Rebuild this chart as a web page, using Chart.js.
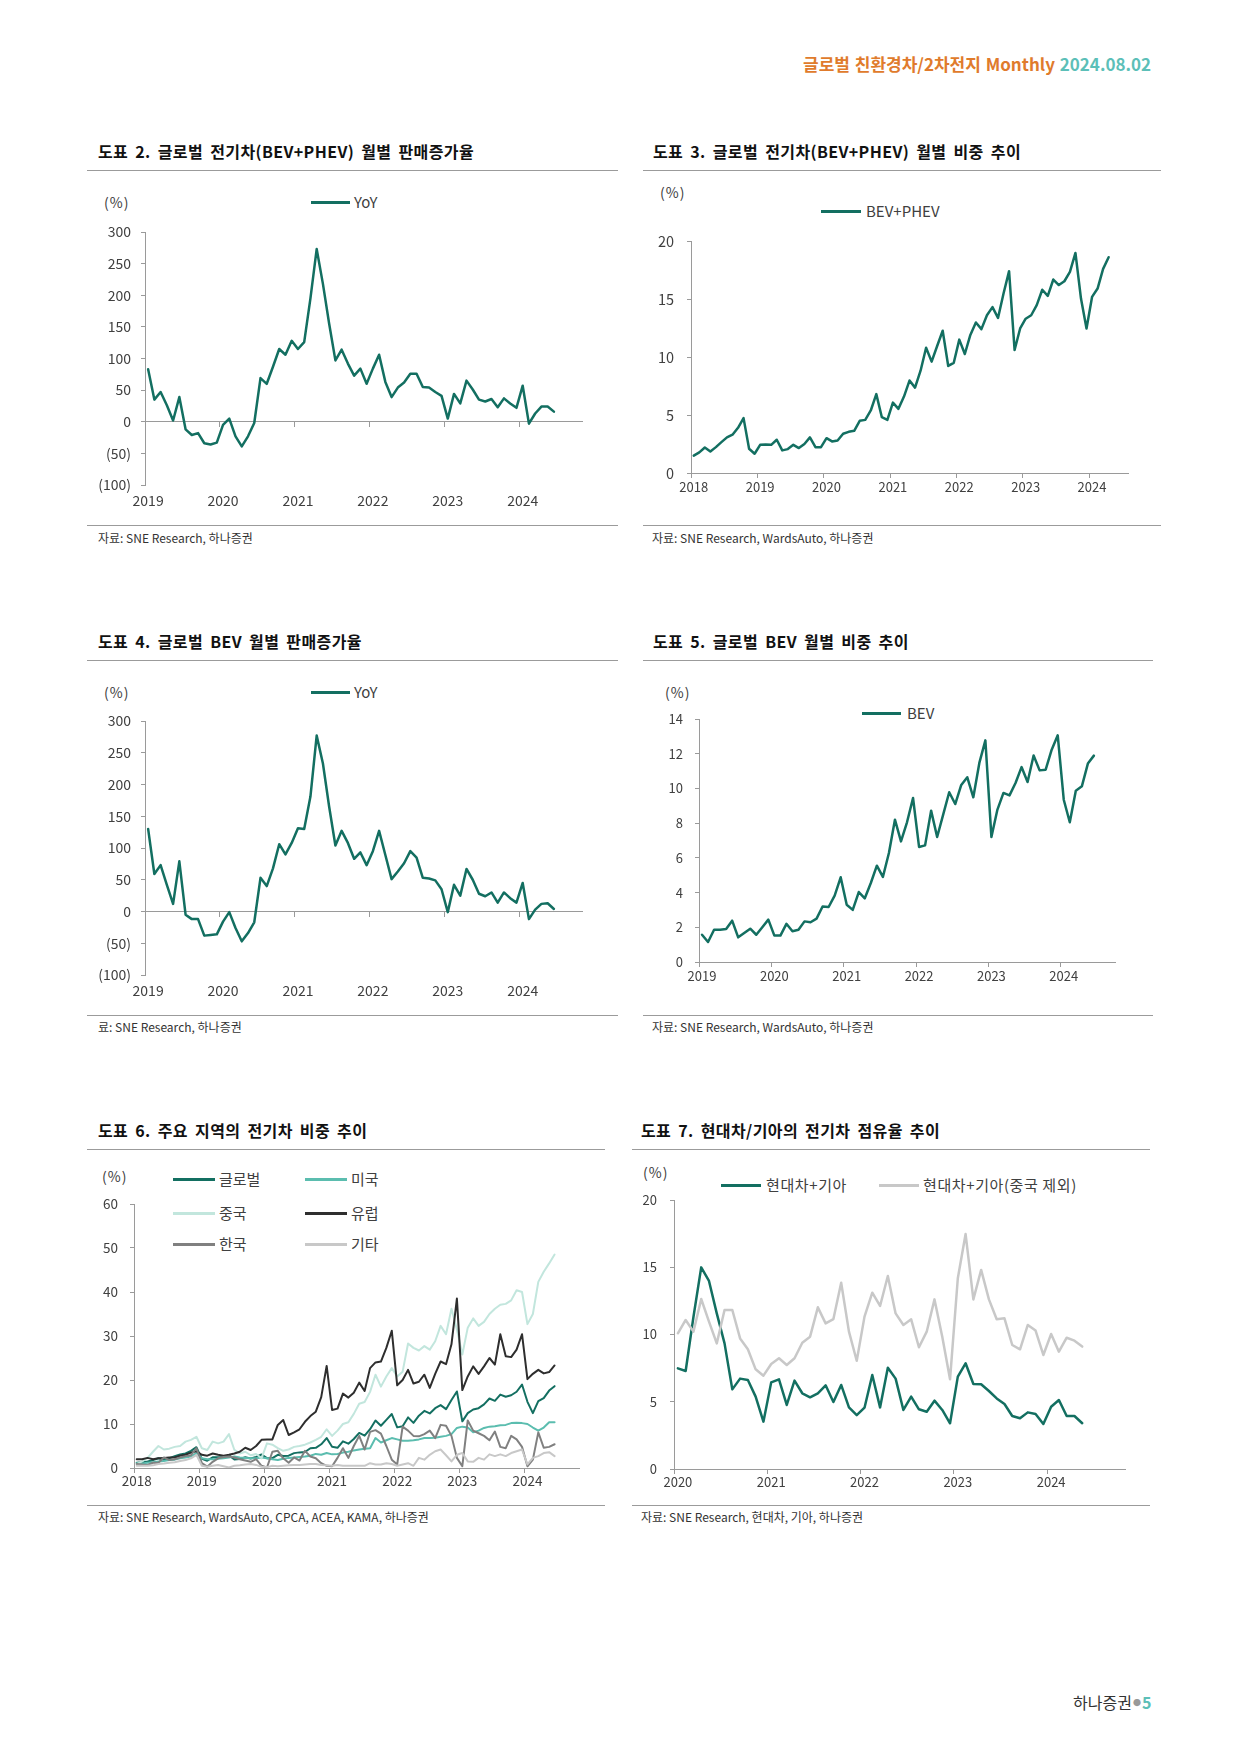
<!DOCTYPE html>
<html><head><meta charset="utf-8">
<script src="https://cdn.jsdelivr.net/npm/chart.js@4.4.1/dist/chart.umd.min.js"></script>
<style>
html,body{margin:0;padding:0;background:#fff;}
body{width:1241px;height:1755px;position:relative;overflow:hidden;font-family:"Noto Sans CJK KR","Noto Sans",sans-serif;color:#333;}
.abs{position:absolute;white-space:nowrap;}
.hdr{font-size:17px;font-weight:700;color:#E07B2C;line-height:22px;word-spacing:1px;}
.hdr span{color:#5CBFB8;}
.title{font-size:16px;font-weight:700;color:#111;line-height:20px;letter-spacing:0.4px;word-spacing:3px;}
.rule{position:absolute;height:0;border-top:1.5px solid #9b9b9b;}
.src{font-size:12px;color:#333;letter-spacing:0;line-height:16px;}
.unit{font-size:14px;color:#404040;line-height:18px;letter-spacing:1px;}
.leg{font-size:15px;color:#404040;line-height:18px;}
.leg7{font-size:15px;letter-spacing:0.6px;}
.ll{position:absolute;height:2.5px;}
canvas{position:absolute;}
.foot{font-size:16px;color:#333;line-height:22px;}
.foot .dot{color:#999;font-size:8px;vertical-align:3px;padding:0 1px;}
.foot .pg{color:#5CBFB8;font-weight:700;}
</style></head>
<body>
<div class="abs hdr" style="left:803px;top:53px;">글로벌 친환경차/2차전지 Monthly <span>2024.08.02</span></div>

<div class="abs title" style="left:98px;top:141px;">도표 2. 글로벌 전기차(BEV+PHEV) 월별 판매증가율</div>
<div class="rule" style="left:87px;width:531px;top:170px;"></div>
<div class="abs unit" style="left:104px;top:193px;">(%)</div>
<div class="ll" style="left:311px;width:39px;top:201px;background:#136F61;"></div>
<div class="abs leg" style="left:354px;top:193px;">YoY</div>
<div class="rule" style="left:87px;width:531px;top:525px;"></div>
<div class="abs src" style="left:98px;top:530px;">자료: SNE Research, 하나증권</div>

<div class="abs title" style="left:653px;top:141px;">도표 3. 글로벌 전기차(BEV+PHEV) 월별 비중 추이</div>
<div class="rule" style="left:643px;width:518px;top:170px;"></div>
<div class="abs unit" style="left:660px;top:183px;">(%)</div>
<div class="ll" style="left:821px;width:40px;top:210px;background:#136F61;"></div>
<div class="abs leg" style="left:866px;top:202px;">BEV+PHEV</div>
<div class="rule" style="left:643px;width:518px;top:525px;"></div>
<div class="abs src" style="left:652px;top:530px;">자료: SNE Research, WardsAuto, 하나증권</div>

<div class="abs title" style="left:98px;top:631px;">도표 4. 글로벌 BEV 월별 판매증가율</div>
<div class="rule" style="left:87px;width:531px;top:660px;"></div>
<div class="abs unit" style="left:104px;top:683px;">(%)</div>
<div class="ll" style="left:311px;width:39px;top:691px;background:#136F61;"></div>
<div class="abs leg" style="left:354px;top:683px;">YoY</div>
<div class="rule" style="left:87px;width:531px;top:1015px;"></div>
<div class="abs src" style="left:98px;top:1019px;">료: SNE Research, 하나증권</div>

<div class="abs title" style="left:653px;top:631px;">도표 5. 글로벌 BEV 월별 비중 추이</div>
<div class="rule" style="left:643px;width:510px;top:660px;"></div>
<div class="abs unit" style="left:665px;top:683px;">(%)</div>
<div class="ll" style="left:862px;width:39px;top:712px;background:#136F61;"></div>
<div class="abs leg" style="left:907px;top:704px;">BEV</div>
<div class="rule" style="left:643px;width:510px;top:1015px;"></div>
<div class="abs src" style="left:652px;top:1019px;">자료: SNE Research, WardsAuto, 하나증권</div>

<div class="abs title" style="left:98px;top:1120px;">도표 6. 주요 지역의 전기차 비중 추이</div>
<div class="rule" style="left:87px;width:518px;top:1149px;"></div>
<div class="abs unit" style="left:102px;top:1167px;">(%)</div>
<div class="ll" style="left:173px;width:42px;top:1178px;background:#136F61;"></div>
<div class="abs leg" style="left:219px;top:1170px;">글로벌</div>
<div class="ll" style="left:305px;width:42px;top:1178px;background:#5BBDAF;"></div>
<div class="abs leg" style="left:351px;top:1170px;">미국</div>
<div class="ll" style="left:173px;width:42px;top:1212px;background:#C2E6DD;"></div>
<div class="abs leg" style="left:219px;top:1204px;">중국</div>
<div class="ll" style="left:305px;width:42px;top:1212px;background:#2E2E2E;"></div>
<div class="abs leg" style="left:351px;top:1204px;">유럽</div>
<div class="ll" style="left:173px;width:42px;top:1243px;background:#808080;"></div>
<div class="abs leg" style="left:219px;top:1235px;">한국</div>
<div class="ll" style="left:305px;width:42px;top:1243px;background:#C8C8C8;"></div>
<div class="abs leg" style="left:351px;top:1235px;">기타</div>
<div class="rule" style="left:87px;width:518px;top:1505px;"></div>
<div class="abs src" style="left:98px;top:1509px;">자료: SNE Research, WardsAuto, CPCA, ACEA, KAMA, 하나증권</div>

<div class="abs title" style="left:641px;top:1120px;">도표 7. 현대차/기아의 전기차 점유율 추이</div>
<div class="rule" style="left:632px;width:518px;top:1149px;"></div>
<div class="abs unit" style="left:643px;top:1163px;">(%)</div>
<div class="ll" style="left:721px;width:40px;top:1184px;background:#136F61;"></div>
<div class="abs leg leg7" style="left:766px;top:1176px;">현대차+기아</div>
<div class="ll" style="left:879px;width:40px;top:1184px;background:#C8C8C8;"></div>
<div class="abs leg leg7" style="left:923px;top:1176px;">현대차+기아(중국 제외)</div>
<div class="rule" style="left:632px;width:518px;top:1505px;"></div>
<div class="abs src" style="left:641px;top:1509px;">자료: SNE Research, 현대차, 기아, 하나증권</div>

<div class="abs foot" style="left:1073px;top:1691px;">하나증권<span class="dot">●</span><span class="pg">5</span></div>

<canvas id="c2" width="510" height="300" style="left:90px;top:220px;"></canvas>
<canvas id="c3" width="500" height="285" style="left:645px;top:225px;"></canvas>
<canvas id="c4" width="510" height="300" style="left:90px;top:710px;"></canvas>
<canvas id="c5" width="500" height="300" style="left:645px;top:705px;"></canvas>
<canvas id="c6" width="510" height="310" style="left:85px;top:1190px;"></canvas>
<canvas id="c7" width="520" height="312" style="left:625px;top:1188px;"></canvas>

<script>
// ---------- DATA ----------
const years2 = ['2019','2020','2021','2022','2023','2024'];
const years3 = ['2018','2019','2020','2021','2022','2023','2024'];
const years5 = ['2019','2020','2021','2022','2023','2024'];
const years6 = ['2018','2019','2020','2021','2022','2023','2024'];
const years7 = ['2020','2021','2022','2023','2024'];

// 도표 2: 글로벌 전기차(BEV+PHEV) 월별 판매증가율 (YoY, %)
const evYoY = [83,35,47,26,2,39,-12,-21,-18,-34,-36,-33,-5,5,-23,-39,-23,-2,69,60,87,115,106,128,115,126,195,273,218,155,97,114,92,73,84,60,84,106,63,39,54,62,76,76,55,54,47,41,5,44,29,65,51,35,32,36,23,37,29,22,57,-3,13,24,24,16];
// 도표 3: 글로벌 전기차(BEV+PHEV) 월별 비중 (%)
const evShare = [1.5,1.78,2.2,1.86,2.23,2.66,3.07,3.3,3.9,4.73,2.09,1.66,2.43,2.46,2.43,2.87,1.95,2.06,2.43,2.15,2.5,3.07,2.23,2.23,3.0,2.72,2.8,3.38,3.55,3.64,4.5,4.58,5.39,6.8,4.81,4.58,6.07,5.53,6.59,7.97,7.36,8.82,10.8,9.6,10.95,12.26,9.23,9.5,11.5,10.26,11.9,12.98,12.4,13.6,14.3,13.37,15.47,17.4,10.6,12.46,13.3,13.6,14.47,15.8,15.27,16.68,16.2,16.53,17.33,18.97,15.04,12.46,15.18,15.9,17.6,18.6];
// 도표 4: 글로벌 BEV 월별 판매증가율 (YoY, %)
const bevYoY = [130,59,73,42,12,79,-5,-12,-12,-38,-37,-36,-16,-1,-26,-47,-34,-17,53,40,68,106,90,108,131,130,181,277,233,165,104,127,108,83,93,73,95,127,89,51,63,76,95,85,53,52,49,35,-1,42,25,67,50,28,24,30,14,30,21,14,45,-12,3,12,13,4];
// 도표 5: 글로벌 BEV 월별 비중 (%)
const bevShare = [1.57,1.15,1.86,1.86,1.9,2.38,1.42,1.67,1.92,1.57,2.0,2.44,1.52,1.52,2.2,1.77,1.86,2.34,2.29,2.5,3.2,3.17,3.82,4.88,3.3,3.0,4.03,3.67,4.55,5.55,4.9,6.28,8.2,6.95,8.05,9.45,6.63,6.72,8.72,7.2,8.49,9.78,9.1,10.2,10.64,9.49,11.47,12.77,7.2,8.78,9.74,9.6,10.31,11.23,10.37,11.9,11.04,11.08,12.23,13.06,9.35,8.05,9.87,10.12,11.43,11.89];
// 도표 6: 주요 지역의 전기차 비중 (%)
const regGlobal = [1.2,1.3,1.5,1.78,2.2,1.86,2.23,2.66,3.07,3.3,3.9,4.73,2.09,1.66,2.43,2.46,2.43,2.87,1.95,2.06,2.43,2.15,2.5,3.07,2.23,2.23,3.0,2.72,2.8,3.38,3.55,3.64,4.5,4.58,5.39,6.8,4.81,4.58,6.07,5.53,6.59,7.97,7.36,8.82,10.8,9.6,10.95,12.26,9.23,9.5,11.5,10.26,11.9,12.98,12.4,13.6,14.3,13.37,15.47,17.4,10.6,12.46,13.3,13.6,14.47,15.8,15.27,16.68,16.2,16.53,17.33,18.97,15.04,12.46,15.18,15.9,17.6,18.6];
const regUS = [1.1,1.0,1.2,1.3,1.5,1.6,1.8,1.9,2.2,2.4,2.6,3.4,2.2,2.0,2.0,2.1,2.2,2.4,2.6,2.4,2.3,2.2,2.2,2.4,2.2,2.0,1.8,2.1,2.3,2.4,2.5,2.6,2.8,3.2,3.0,3.4,3.1,3.2,3.5,3.7,4.0,4.2,4.4,4.5,6.8,5.8,6.3,6.8,6.5,6.2,6.2,6.3,6.5,6.8,6.8,6.9,7.1,7.3,7.7,9.1,9.4,9.2,8.1,8.5,9.1,9.4,9.5,9.7,9.8,10.2,10.3,10.2,10.0,9.2,8.5,9.2,10.4,10.4];
const regChina = [0.9,1.5,2.3,3.7,5.0,4.2,4.4,4.8,5.0,6.0,6.4,7.1,4.5,4.1,6.0,5.6,6.0,7.7,4.1,3.3,3.7,2.9,3.2,2.2,5.6,5.3,4.5,3.9,4.2,4.8,5.0,5.3,5.8,6.4,7.1,8.8,7.3,8.5,10.0,10.4,12.3,14.6,15.0,17.3,21.2,18.5,20.8,22.7,20.8,21.9,28.3,27.3,26.7,27.7,26.9,28.8,32.3,30.4,36.2,31.5,25.8,31.9,34.0,32.3,33.2,35.0,36.2,37.1,37.3,38.1,40.4,40.0,32.7,35.0,42.3,44.6,46.5,48.5];
const regEurope = [2.0,2.0,2.3,2.0,2.2,2.3,2.4,2.4,2.8,3.0,3.5,3.8,3.0,2.8,3.3,3.0,2.8,3.0,3.3,3.7,4.6,4.1,5.0,6.4,6.5,6.5,9.8,10.9,7.5,8.1,8.8,10.5,11.8,12.8,16.1,23.2,13.2,13.5,16.9,16.0,17.1,19.4,17.5,22.7,24.0,24.2,27.3,31.2,18.8,20.0,22.3,19.2,19.6,21.2,18.2,21.4,24.2,23.6,28.1,38.5,17.7,20.8,23.1,21.4,23.1,25.0,23.5,30.4,25.4,25.2,26.9,30.4,20.2,21.4,22.3,21.5,21.8,23.3];
const regKorea = [0.9,0.8,0.7,1.2,1.2,2.4,1.8,2.0,2.4,2.7,2.9,4.5,1.1,0.3,1.4,2.2,2.5,2.6,2.4,2.0,1.7,1.4,2.0,0.5,0.1,3.7,3.9,2.2,1.2,2.4,1.7,3.9,2.6,2.2,1.1,0.5,0.4,2.3,4.5,2.3,5.0,7.3,4.2,8.2,8.6,7.8,5.0,1.9,0.8,9.4,8.5,7.3,7.2,7.7,8.5,6.8,9.8,9.6,7.3,2.3,0.4,10.8,8.5,7.9,7.3,6.3,8.3,4.8,4.5,7.3,6.5,4.8,0.4,1.9,8.1,4.6,4.8,5.4];
const regOther = [0.5,0.5,0.5,0.6,0.9,1.0,1.2,1.3,1.6,1.8,2.2,3.0,0.5,0.3,0.5,0.7,0.4,0.1,0.5,0.6,0.8,0.9,0.7,0.3,0.2,0.5,0.4,0.5,0.6,0.7,0.7,0.8,0.9,0.9,0.7,0.6,0.5,0.7,0.5,0.5,0.5,0.5,0.5,1.1,0.8,0.8,1.1,0.9,0.5,0.8,1.1,0.5,2.3,1.9,3.0,3.8,4.2,2.9,1.5,3.0,3.4,1.5,1.4,2.3,1.9,3.1,2.7,3.1,2.7,3.4,3.8,4.2,0.8,2.3,2.7,3.4,3.6,2.7];
// 도표 7: 현대차/기아의 전기차 점유율 (%)
const hkShare = [7.48,7.29,11.3,14.99,13.98,11.57,9.34,5.92,6.72,6.62,5.38,3.52,6.44,6.67,4.76,6.57,5.63,5.33,5.63,6.22,4.98,6.25,4.58,4.0,4.56,6.99,4.58,7.53,6.72,4.39,5.38,4.44,4.26,5.08,4.39,3.4,6.87,7.86,6.32,6.3,5.8,5.25,4.83,3.94,3.77,4.21,4.09,3.35,4.63,5.13,3.94,3.94,3.4];
const hkShareExChina = [10.09,11.08,10.21,12.64,10.96,9.34,11.82,11.82,9.71,8.9,7.41,6.94,7.81,8.23,7.73,8.23,9.39,9.84,12.02,10.83,11.15,13.85,10.21,8.05,11.33,13.11,12.12,14.35,11.57,10.71,11.13,9.05,10.21,12.61,9.84,6.67,14.18,17.47,12.61,14.8,12.61,11.13,11.2,9.22,8.9,10.71,10.29,8.48,10.04,8.72,9.76,9.54,9.1];

// ---------- HELPERS ----------
function monthLabels(y, m, n) {
  const a = [];
  for (let i = 0; i < n; i++) {
    const k = m - 1 + i;
    a.push((y + Math.floor(k / 12)) + '-' + String(k % 12 + 1).padStart(2, '0'));
  }
  return a;
}
Chart.defaults.font.family = '"Noto Sans CJK KR","Noto Sans",sans-serif';
Chart.defaults.color = '#404040';
Chart.defaults.animation = false;
Chart.defaults.events = [];
Chart.defaults.plugins.legend.display = false;
Chart.defaults.plugins.tooltip.enabled = false;

const AX = '#9a9a9a';
const TEAL = '#136F61';
const NONE = 'rgba(0,0,0,0)';
const tickMark = c => (c.index !== undefined && c.index % 12 === 0) ? AX : NONE;
function noPad(s) { s.paddingTop = 0; s.paddingBottom = 0; s.paddingLeft = 0; s.paddingRight = 0; }

function xAxis(years, o) {
  return {
    type: 'category', position: 'bottom', offset: true,
    grid: {display: o.marks, drawOnChartArea: false, drawTicks: o.marks, tickLength: 5, offset: true, color: NONE, tickColor: tickMark, tickWidth: 1},
    border: {display: o.marks, color: AX, width: 1},
    ticks: {autoSkip: false, maxRotation: 0, minRotation: 0, padding: o.pad, font: {size: o.size}, color: '#404040',
      callback: (v, i) => (i % 12 === 0 ? (years[i / 12] || '') : '')},
    afterFit: s => { s.height = o.h; noPad(s); }
  };
}
function yAxis(min, max, step, o) {
  return {
    type: 'linear', position: 'left', min: min, max: max,
    grid: {drawOnChartArea: false, drawTicks: true, tickLength: 4, color: AX, tickColor: AX},
    border: {display: true, color: AX, width: 1},
    ticks: {stepSize: step, padding: o.pad, font: {size: o.size}, color: '#404040', callback: o.cb || (v => String(v))},
    afterFit: s => { s.width = o.w; noPad(s); }
  };
}
function line(data, color, width, order) {
  return {data: data, borderColor: color, backgroundColor: color, borderWidth: width, pointRadius: 0,
    tension: 0, fill: false, borderJoinStyle: 'round', borderCapStyle: 'round', xAxisID: 'x', yAxisID: 'y', order: order || 0};
}
const paren = v => (v < 0 ? '(' + (-v) + ')' : String(v));

function yoyChart(id, data, padTop) {
  new Chart(document.getElementById(id), {
    type: 'line',
    data: {labels: monthLabels(2019, 1, 70), datasets: [line(data, TEAL, 2.5)]},
    options: {
      responsive: false, maintainAspectRatio: false,
      layout: {padding: {top: padTop, right: 18, left: 0, bottom: 0}},
      scales: {
        x: xAxis(years2, {marks: false, pad: 7, size: 14, h: 35}),
        x0: {type: 'category', axis: 'x', position: {y: 0}, offset: true,
          grid: {drawOnChartArea: false, drawTicks: true, tickLength: 5, offset: true, color: NONE, tickColor: tickMark},
          border: {display: true, color: AX, width: 1},
          ticks: {display: false, autoSkip: false, maxRotation: 0},
          afterFit: s => { noPad(s); }},
        y: yAxis(-100, 300, 50, {pad: 10, size: 14, w: 55, cb: paren})
      }
    }
  });
}

// 도표 2
yoyChart('c2', evYoY, 12);
// 도표 4
yoyChart('c4', bevYoY, 11);

// 도표 3
new Chart(document.getElementById('c3'), {
  type: 'line',
  data: {labels: monthLabels(2018, 1, 79), datasets: [line(evShare, TEAL, 2.5)]},
  options: {
    responsive: false, maintainAspectRatio: false,
    layout: {padding: {top: 16, right: 17, left: 0, bottom: 0}},
    scales: {
      x: xAxis(years3, {marks: true, pad: 1, size: 13, h: 37}),
      y: yAxis(0, 20, 5, {pad: 13, size: 14.5, w: 46})
    }
  }
});

// 도표 5
new Chart(document.getElementById('c5'), {
  type: 'line',
  data: {labels: monthLabels(2019, 1, 69), datasets: [line(bevShare, TEAL, 2.5)]},
  options: {
    responsive: false, maintainAspectRatio: false,
    layout: {padding: {top: 14, right: 30, left: 0, bottom: 0}},
    scales: {
      x: xAxis(years5, {marks: true, pad: 1.5, size: 13, h: 43}),
      y: yAxis(0, 14, 2, {pad: 12, size: 13, w: 54})
    }
  }
});

// 도표 6
new Chart(document.getElementById('c6'), {
  type: 'line',
  data: {labels: monthLabels(2018, 1, 82), datasets: [
    line(regGlobal, TEAL, 2, 0),
    line(regUS, '#5BBDAF', 2, -1),
    line(regChina, '#C2E6DD', 2, -2),
    line(regEurope, '#2E2E2E', 2, -3),
    line(regKorea, '#808080', 2, -4),
    line(regOther, '#C8C8C8', 2, -5)
  ]},
  options: {
    responsive: false, maintainAspectRatio: false,
    layout: {padding: {top: 14, right: 16, left: 0, bottom: 0}},
    scales: {
      x: xAxis(years6, {marks: true, pad: 0, size: 13.5, h: 32}),
      y: yAxis(0, 60, 10, {pad: 12, size: 13.5, w: 49})
    }
  }
});

// 도표 7
new Chart(document.getElementById('c7'), {
  type: 'line',
  data: {labels: monthLabels(2020, 1, 58), datasets: [
    line(hkShare, TEAL, 2.5, 0),
    line(hkShareExChina, '#C8C8C8', 2.5, -1)
  ]},
  options: {
    responsive: false, maintainAspectRatio: false,
    layout: {padding: {top: 12, right: 20, left: 0, bottom: 0}},
    scales: {
      x: xAxis(years7, {marks: true, pad: 0, size: 13, h: 31}),
      y: yAxis(0, 20, 5, {pad: 13, size: 13, w: 49})
    }
  }
});
</script>
</body></html>
